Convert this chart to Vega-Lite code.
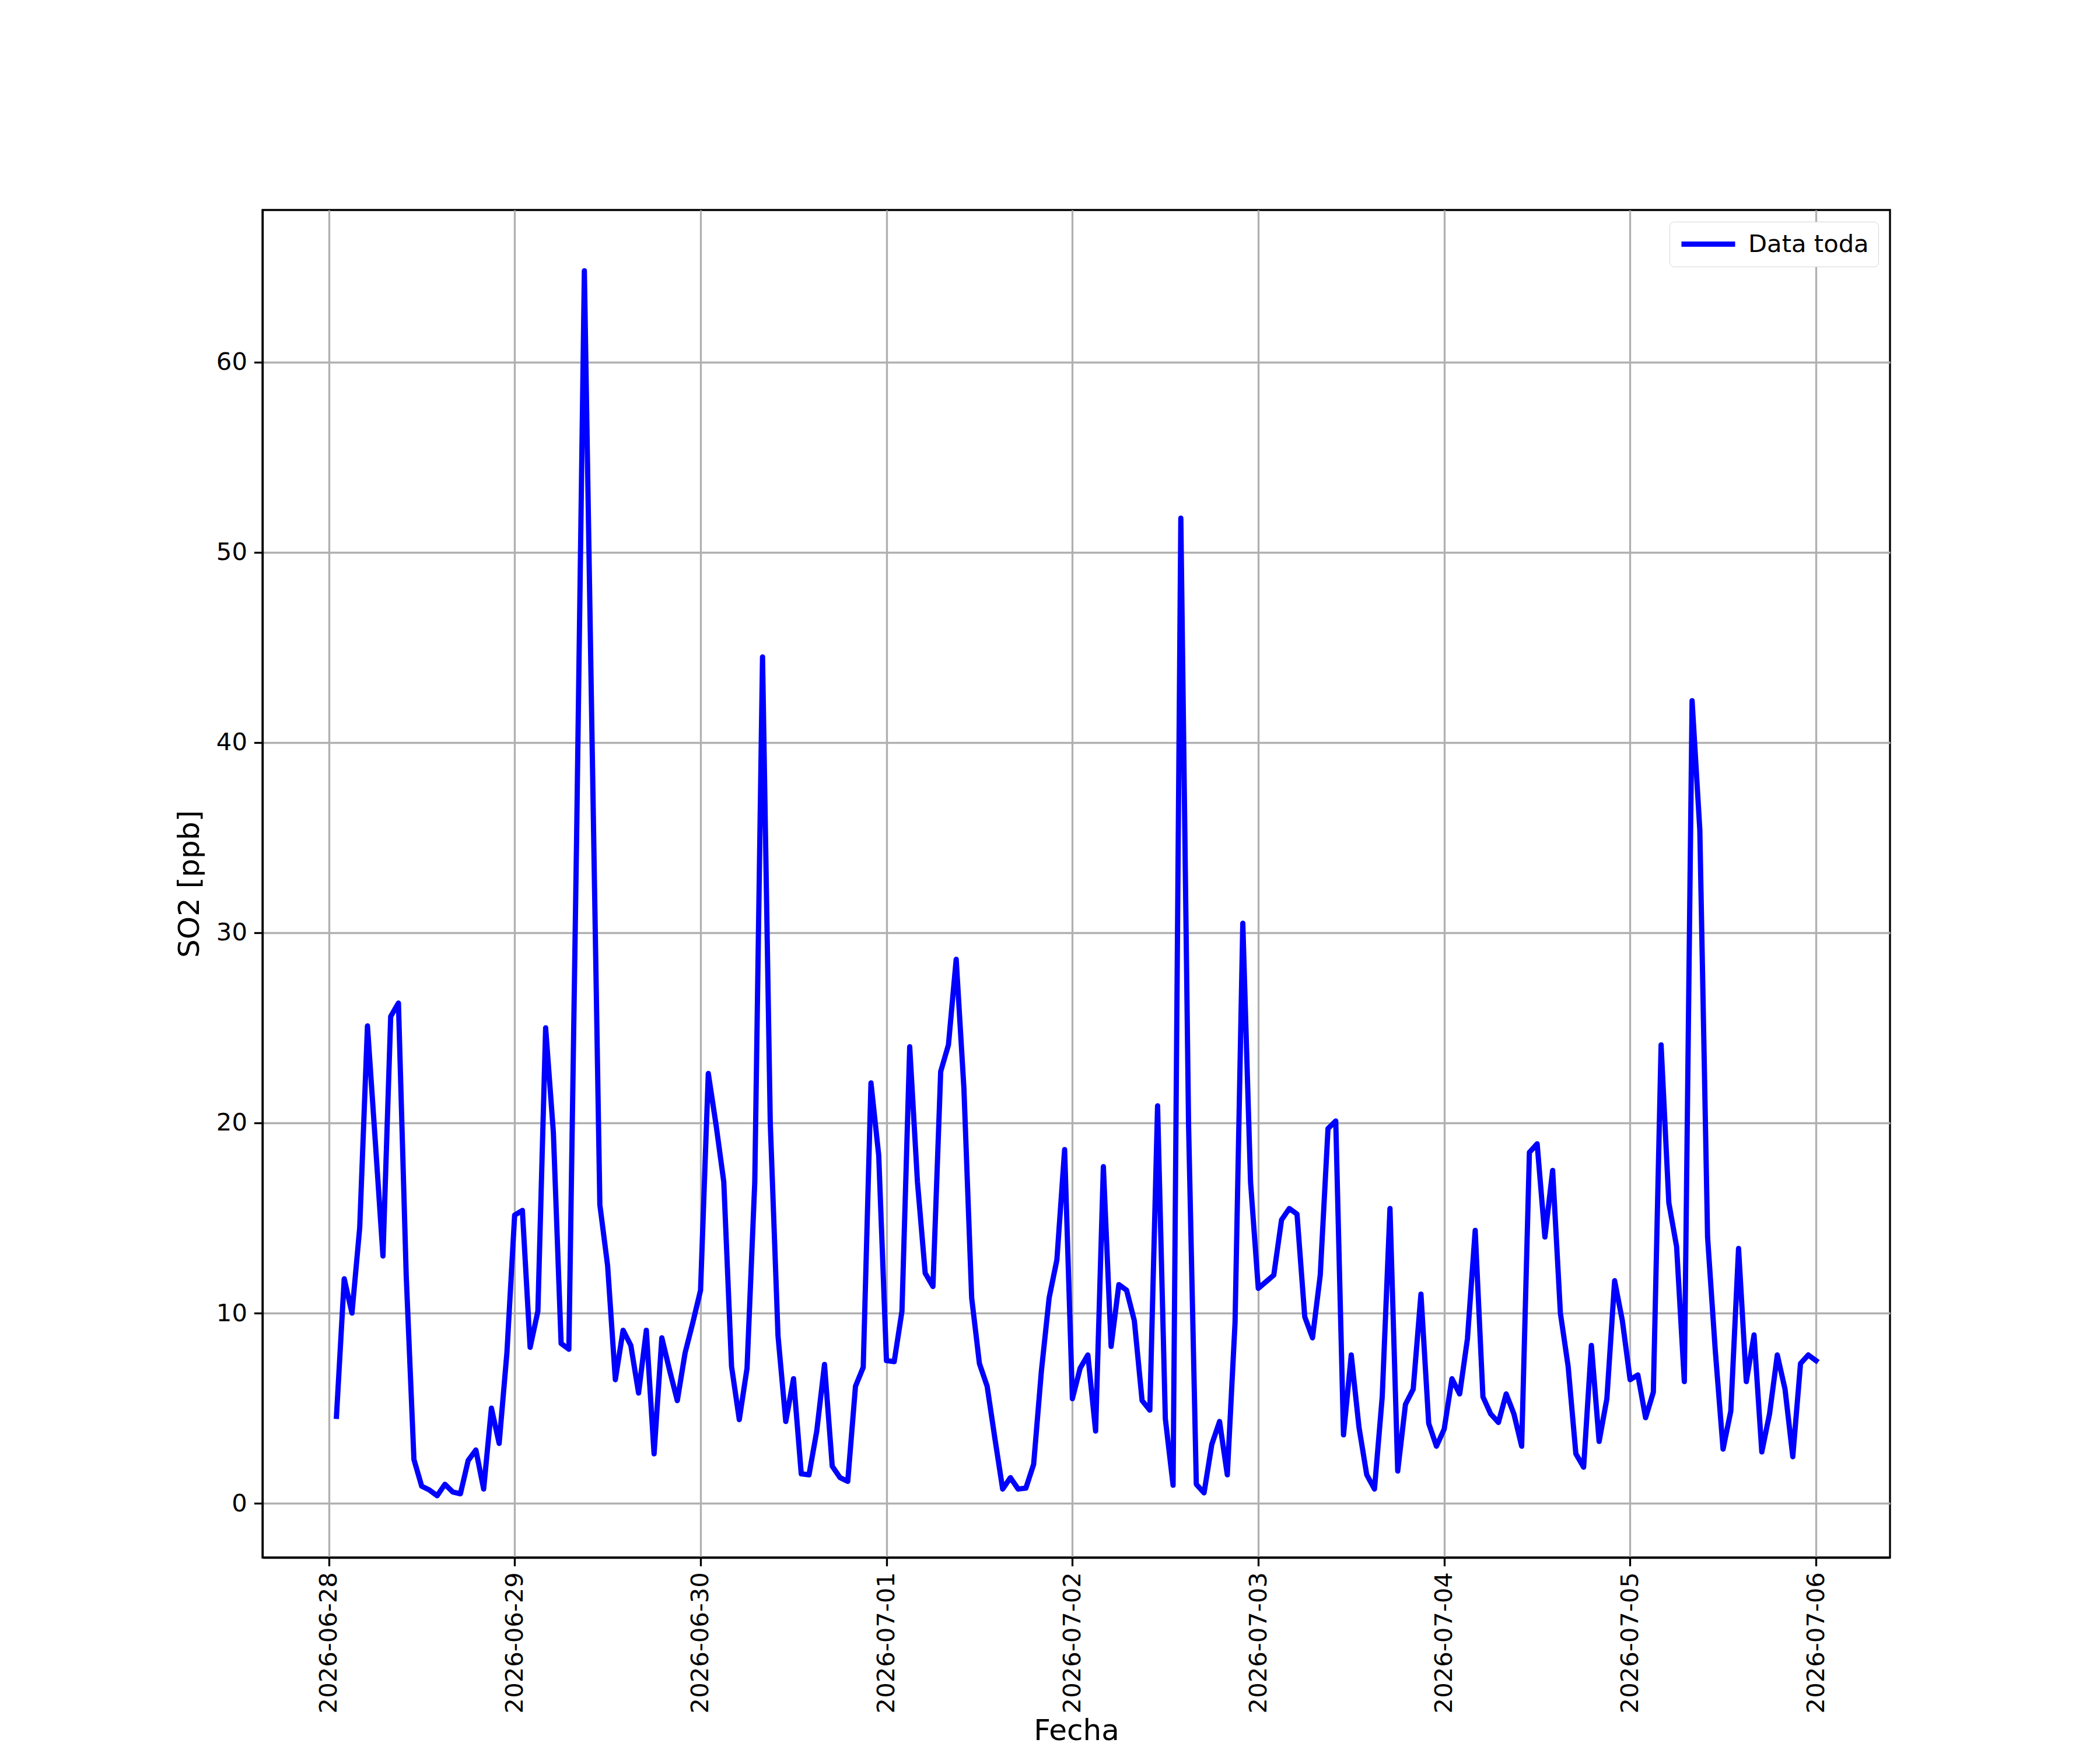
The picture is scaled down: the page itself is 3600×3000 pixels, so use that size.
{
  "$schema": "https://vega.github.io/schema/vega-lite/v6.json",
  "width": 2790,
  "height": 2310,
  "autosize": {"type": "none"},
  "padding": {"left": 450, "top": 360, "right": 360, "bottom": 330},
  "background": "white",
  "config": {
    "font": "DejaVu Sans",
    "view": {"stroke": "black", "strokeWidth": 3.3},
    "axis": {
      "domainColor": "black", "domainWidth": 3.3,
      "tickColor": "black", "tickWidth": 3.3, "tickSize": 14.6,
      "gridColor": "#b0b0b0", "gridWidth": 3.3, "gridOpacity": 1,
      "labelFont": "DejaVu Sans", "labelFontSize": 41.7, "labelColor": "black",
      "labelPadding": 12, "labelLimit": 0,
      "titleFont": "DejaVu Sans", "titleFontSize": 50, "titleFontWeight": "normal", "titleColor": "black"
    }
  },
  "data": {"values": [
    {"t": "2026-06-28T01:00", "v": 4.57}, {"t": "2026-06-28T02:00", "v": 11.8}, {"t": "2026-06-28T03:00", "v": 10.0}, {"t": "2026-06-28T04:00", "v": 14.5},
    {"t": "2026-06-28T05:00", "v": 25.1}, {"t": "2026-06-28T06:00", "v": 19.1}, {"t": "2026-06-28T07:00", "v": 13.0}, {"t": "2026-06-28T08:00", "v": 25.6},
    {"t": "2026-06-28T09:00", "v": 26.3}, {"t": "2026-06-28T10:00", "v": 12.0}, {"t": "2026-06-28T11:00", "v": 2.3}, {"t": "2026-06-28T12:00", "v": 0.9},
    {"t": "2026-06-28T13:00", "v": 0.7}, {"t": "2026-06-28T14:00", "v": 0.4}, {"t": "2026-06-28T15:00", "v": 1.0}, {"t": "2026-06-28T16:00", "v": 0.6},
    {"t": "2026-06-28T17:00", "v": 0.5}, {"t": "2026-06-28T18:00", "v": 2.25}, {"t": "2026-06-28T19:00", "v": 2.8}, {"t": "2026-06-28T20:00", "v": 0.75},
    {"t": "2026-06-28T21:00", "v": 5.0}, {"t": "2026-06-28T22:00", "v": 3.15}, {"t": "2026-06-28T23:00", "v": 7.9},
    {"t": "2026-06-29T00:00", "v": 15.15}, {"t": "2026-06-29T01:00", "v": 15.4}, {"t": "2026-06-29T02:00", "v": 8.2}, {"t": "2026-06-29T03:00", "v": 10.1},
    {"t": "2026-06-29T04:00", "v": 25.0}, {"t": "2026-06-29T05:00", "v": 19.5}, {"t": "2026-06-29T06:00", "v": 8.4}, {"t": "2026-06-29T07:00", "v": 8.1},
    {"t": "2026-06-29T08:00", "v": 35.0}, {"t": "2026-06-29T09:00", "v": 64.8}, {"t": "2026-06-29T10:00", "v": 40.0}, {"t": "2026-06-29T11:00", "v": 15.7},
    {"t": "2026-06-29T12:00", "v": 12.5}, {"t": "2026-06-29T13:00", "v": 6.5}, {"t": "2026-06-29T14:00", "v": 9.1}, {"t": "2026-06-29T15:00", "v": 8.3},
    {"t": "2026-06-29T16:00", "v": 5.8}, {"t": "2026-06-29T17:00", "v": 9.1}, {"t": "2026-06-29T18:00", "v": 2.6}, {"t": "2026-06-29T19:00", "v": 8.7},
    {"t": "2026-06-29T20:00", "v": 7.0}, {"t": "2026-06-29T21:00", "v": 5.4}, {"t": "2026-06-29T22:00", "v": 7.9}, {"t": "2026-06-29T23:00", "v": 9.5},
    {"t": "2026-06-30T00:00", "v": 11.2}, {"t": "2026-06-30T01:00", "v": 22.6}, {"t": "2026-06-30T02:00", "v": 19.9}, {"t": "2026-06-30T03:00", "v": 16.9},
    {"t": "2026-06-30T04:00", "v": 7.2}, {"t": "2026-06-30T05:00", "v": 4.4}, {"t": "2026-06-30T06:00", "v": 7.1}, {"t": "2026-06-30T07:00", "v": 16.9},
    {"t": "2026-06-30T08:00", "v": 44.5}, {"t": "2026-06-30T09:00", "v": 20.0}, {"t": "2026-06-30T10:00", "v": 8.8}, {"t": "2026-06-30T11:00", "v": 4.3},
    {"t": "2026-06-30T12:00", "v": 6.55}, {"t": "2026-06-30T13:00", "v": 1.55}, {"t": "2026-06-30T14:00", "v": 1.5}, {"t": "2026-06-30T15:00", "v": 3.8},
    {"t": "2026-06-30T16:00", "v": 7.3}, {"t": "2026-06-30T17:00", "v": 1.95}, {"t": "2026-06-30T18:00", "v": 1.35}, {"t": "2026-06-30T19:00", "v": 1.15},
    {"t": "2026-06-30T20:00", "v": 6.15}, {"t": "2026-06-30T21:00", "v": 7.15}, {"t": "2026-06-30T22:00", "v": 22.1}, {"t": "2026-06-30T23:00", "v": 18.3},
    {"t": "2026-07-01T00:00", "v": 7.5}, {"t": "2026-07-01T01:00", "v": 7.45}, {"t": "2026-07-01T02:00", "v": 10.1}, {"t": "2026-07-01T03:00", "v": 24.0},
    {"t": "2026-07-01T04:00", "v": 16.9}, {"t": "2026-07-01T05:00", "v": 12.1}, {"t": "2026-07-01T06:00", "v": 11.4}, {"t": "2026-07-01T07:00", "v": 22.7},
    {"t": "2026-07-01T08:00", "v": 24.1}, {"t": "2026-07-01T09:00", "v": 28.6}, {"t": "2026-07-01T10:00", "v": 21.8}, {"t": "2026-07-01T11:00", "v": 10.8},
    {"t": "2026-07-01T12:00", "v": 7.35}, {"t": "2026-07-01T13:00", "v": 6.15}, {"t": "2026-07-01T14:00", "v": 3.4}, {"t": "2026-07-01T15:00", "v": 0.75},
    {"t": "2026-07-01T16:00", "v": 1.35}, {"t": "2026-07-01T17:00", "v": 0.75}, {"t": "2026-07-01T18:00", "v": 0.8}, {"t": "2026-07-01T19:00", "v": 2.05},
    {"t": "2026-07-01T20:00", "v": 6.95}, {"t": "2026-07-01T21:00", "v": 10.8}, {"t": "2026-07-01T22:00", "v": 12.8}, {"t": "2026-07-01T23:00", "v": 18.6},
    {"t": "2026-07-02T00:00", "v": 5.5}, {"t": "2026-07-02T01:00", "v": 7.1}, {"t": "2026-07-02T02:00", "v": 7.8}, {"t": "2026-07-02T03:00", "v": 3.8},
    {"t": "2026-07-02T04:00", "v": 17.7}, {"t": "2026-07-02T05:00", "v": 8.25}, {"t": "2026-07-02T06:00", "v": 11.5}, {"t": "2026-07-02T07:00", "v": 11.2},
    {"t": "2026-07-02T08:00", "v": 9.6}, {"t": "2026-07-02T09:00", "v": 5.4}, {"t": "2026-07-02T10:00", "v": 4.9}, {"t": "2026-07-02T11:00", "v": 20.9},
    {"t": "2026-07-02T12:00", "v": 4.45}, {"t": "2026-07-02T13:00", "v": 0.95}, {"t": "2026-07-02T14:00", "v": 51.8}, {"t": "2026-07-02T15:00", "v": 19.9},
    {"t": "2026-07-02T16:00", "v": 1.0}, {"t": "2026-07-02T17:00", "v": 0.55}, {"t": "2026-07-02T18:00", "v": 3.1}, {"t": "2026-07-02T19:00", "v": 4.3},
    {"t": "2026-07-02T20:00", "v": 1.5}, {"t": "2026-07-02T21:00", "v": 9.5}, {"t": "2026-07-02T22:00", "v": 30.5}, {"t": "2026-07-02T23:00", "v": 16.9},
    {"t": "2026-07-03T00:00", "v": 11.3}, {"t": "2026-07-03T01:00", "v": 11.65}, {"t": "2026-07-03T02:00", "v": 12.0}, {"t": "2026-07-03T03:00", "v": 14.9},
    {"t": "2026-07-03T04:00", "v": 15.5}, {"t": "2026-07-03T05:00", "v": 15.2}, {"t": "2026-07-03T06:00", "v": 9.8}, {"t": "2026-07-03T07:00", "v": 8.7},
    {"t": "2026-07-03T08:00", "v": 12.0}, {"t": "2026-07-03T09:00", "v": 19.7}, {"t": "2026-07-03T10:00", "v": 20.1}, {"t": "2026-07-03T11:00", "v": 3.6},
    {"t": "2026-07-03T12:00", "v": 7.8}, {"t": "2026-07-03T13:00", "v": 4.0}, {"t": "2026-07-03T14:00", "v": 1.5}, {"t": "2026-07-03T15:00", "v": 0.75},
    {"t": "2026-07-03T16:00", "v": 5.6}, {"t": "2026-07-03T17:00", "v": 15.5}, {"t": "2026-07-03T18:00", "v": 1.7}, {"t": "2026-07-03T19:00", "v": 5.2},
    {"t": "2026-07-03T20:00", "v": 6.0}, {"t": "2026-07-03T21:00", "v": 11.0}, {"t": "2026-07-03T22:00", "v": 4.2}, {"t": "2026-07-03T23:00", "v": 3.0},
    {"t": "2026-07-04T00:00", "v": 3.9}, {"t": "2026-07-04T01:00", "v": 6.55}, {"t": "2026-07-04T02:00", "v": 5.75}, {"t": "2026-07-04T03:00", "v": 8.65},
    {"t": "2026-07-04T04:00", "v": 14.35}, {"t": "2026-07-04T05:00", "v": 5.6}, {"t": "2026-07-04T06:00", "v": 4.7}, {"t": "2026-07-04T07:00", "v": 4.25},
    {"t": "2026-07-04T08:00", "v": 5.75}, {"t": "2026-07-04T09:00", "v": 4.7}, {"t": "2026-07-04T10:00", "v": 3.0}, {"t": "2026-07-04T11:00", "v": 18.45},
    {"t": "2026-07-04T12:00", "v": 18.9}, {"t": "2026-07-04T13:00", "v": 14.0}, {"t": "2026-07-04T14:00", "v": 17.5}, {"t": "2026-07-04T15:00", "v": 10.0},
    {"t": "2026-07-04T16:00", "v": 7.2}, {"t": "2026-07-04T17:00", "v": 2.6}, {"t": "2026-07-04T18:00", "v": 1.9}, {"t": "2026-07-04T19:00", "v": 8.3},
    {"t": "2026-07-04T20:00", "v": 3.25}, {"t": "2026-07-04T21:00", "v": 5.5}, {"t": "2026-07-04T22:00", "v": 11.7}, {"t": "2026-07-04T23:00", "v": 9.6},
    {"t": "2026-07-05T00:00", "v": 6.5}, {"t": "2026-07-05T01:00", "v": 6.75}, {"t": "2026-07-05T02:00", "v": 4.5}, {"t": "2026-07-05T03:00", "v": 5.85},
    {"t": "2026-07-05T04:00", "v": 24.1}, {"t": "2026-07-05T05:00", "v": 15.8}, {"t": "2026-07-05T06:00", "v": 13.5}, {"t": "2026-07-05T07:00", "v": 6.4},
    {"t": "2026-07-05T08:00", "v": 42.2}, {"t": "2026-07-05T09:00", "v": 35.4}, {"t": "2026-07-05T10:00", "v": 14.0}, {"t": "2026-07-05T11:00", "v": 8.0},
    {"t": "2026-07-05T12:00", "v": 2.85}, {"t": "2026-07-05T13:00", "v": 4.85}, {"t": "2026-07-05T14:00", "v": 13.4}, {"t": "2026-07-05T15:00", "v": 6.4},
    {"t": "2026-07-05T16:00", "v": 8.85}, {"t": "2026-07-05T17:00", "v": 2.7}, {"t": "2026-07-05T18:00", "v": 4.7}, {"t": "2026-07-05T19:00", "v": 7.8},
    {"t": "2026-07-05T20:00", "v": 6.0}, {"t": "2026-07-05T21:00", "v": 2.45}, {"t": "2026-07-05T22:00", "v": 7.35}, {"t": "2026-07-05T23:00", "v": 7.8},
    {"t": "2026-07-06T00:00", "v": 7.5}
  ]},
  "mark": {"type": "line", "strokeWidth": 9, "strokeJoin": "round", "strokeCap": "square", "clip": true},
  "encoding": {
    "x": {
      "field": "t", "type": "temporal", "title": "Fecha",
      "scale": {"domain": [
        {"year": 2026, "month": 6, "date": 27, "hours": 15, "minutes": 27},
        {"year": 2026, "month": 7, "date": 6, "hours": 9, "minutes": 33}
      ], "nice": false},
      "axis": {"format": "%Y-%m-%d", "labelAngle": 270, "tickCount": {"interval": "day", "step": 1}, "titleY": 272, "titleBaseline": "top", "labelFlush": false, "labelOverlap": false, "labelLimit": 0, "labelPadding": 10}
    },
    "y": {
      "field": "v", "type": "quantitative", "title": "SO2 [ppb]",
      "scale": {"domain": [-2.85, 68.0], "nice": false, "zero": false},
      "axis": {"values": [0, 10, 20, 30, 40, 50, 60], "titlePadding": 20}
    },
    "color": {
      "datum": "Data toda",
      "scale": {"range": ["#0000ff"]},
      "legend": {
        "title": null, "orient": "none", "legendX": 2412, "legendY": 20,
        "symbolType": "stroke", "symbolSize": 8464, "symbolStrokeWidth": 9,
        "clipHeight": 45,
        "labelFontSize": 41.7, "labelFont": "DejaVu Sans", "labelColor": "black", "labelOffset": 18, "labelLimit": 0,
        "strokeColor": "#d5d5d5", "fillColor": "white", "cornerRadius": 8, "padding": 16
      }
    }
  }
}
